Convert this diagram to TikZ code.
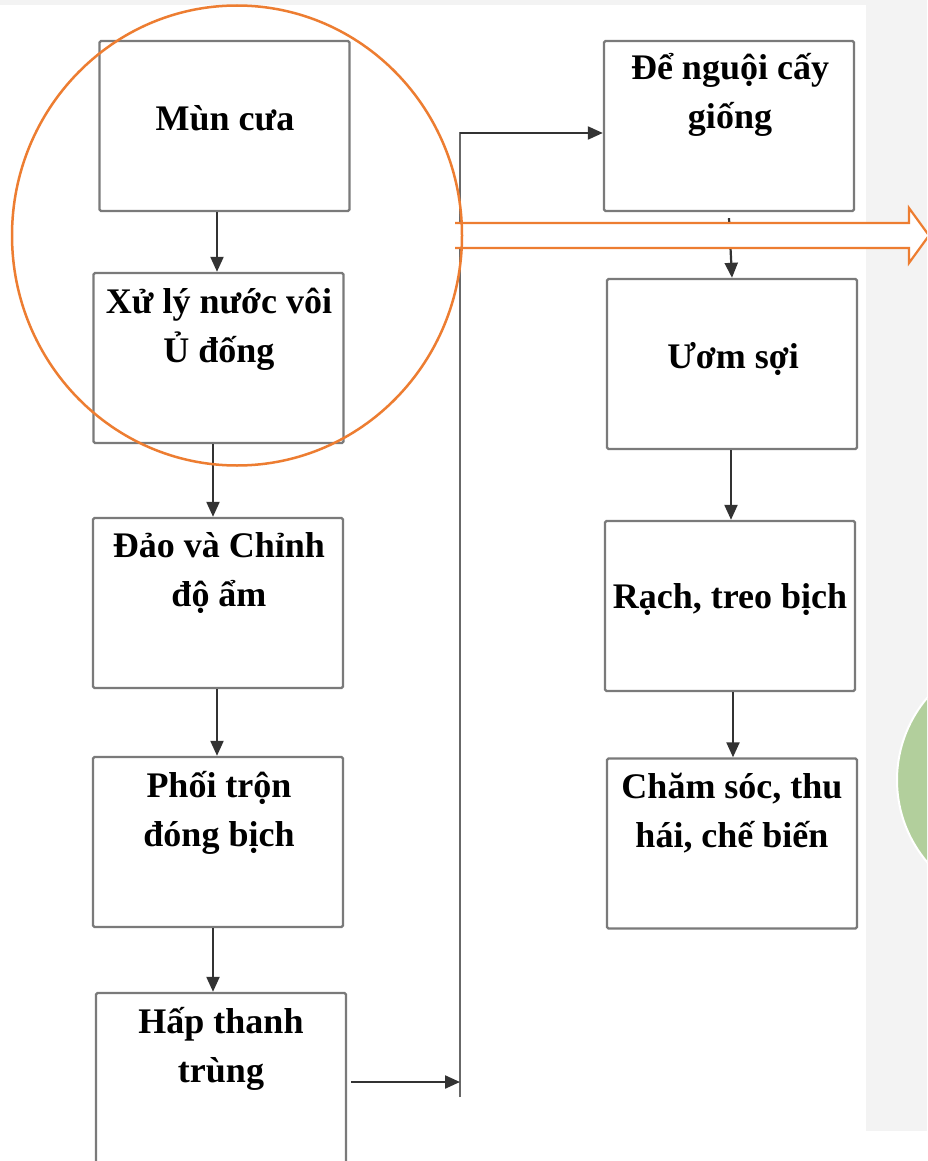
\documentclass[tikz,border=0pt]{standalone}
\usepackage{fontspec}
\setmainfont{Liberation Serif}
\usetikzlibrary{arrows.meta}
\definecolor{bggray}{HTML}{F3F3F3}
\definecolor{boxgray}{HTML}{7A7A7A}
\definecolor{arrgray}{HTML}{333333}
\definecolor{lineorange}{HTML}{ED7D31}
\definecolor{softgreen}{HTML}{B2CF9C}
\tikzset{
  stepbox/.style={draw=boxgray, line width=2.4pt, rounded corners=1.5pt, fill=white, minimum width=250pt, minimum height=170pt, inner sep=0pt},
  lbl/.style={font=\bfseries\fontsize{36pt}{49pt}\selectfont, align=center, anchor=base, inner sep=0pt},
  arr/.style={draw=arrgray, line width=2.2pt, -{Triangle[length=15pt,width=13pt]}},
  vline/.style={draw=boxgray!85!black, line width=2.2pt}
}
\begin{document}
\begin{tikzpicture}[x=1pt,y=-1pt]
\useasboundingbox (0,0) rectangle (927,1161);
\clip (0,0) rectangle (927,1161);
\fill[white] (0,0) rectangle (927,1161);
\fill[bggray] (0,0) rectangle (927,5);
\fill[bggray] (866,0) rectangle (927,1131);
\fill[softgreen, draw=white, line width=2pt] (1024,780) circle (127);

% left column
\node[stepbox] (b1) at (224.5,126) {};
\node[stepbox] (b2) at (218.5,358) {};
\node[stepbox] (b3) at (218,603) {};
\node[stepbox] (b4) at (218,842) {};
\node[stepbox] (b5) at (221,1078) {};
% right column
\node[stepbox] (b6) at (729,126) {};
\node[stepbox] (b7) at (732,364) {};
\node[stepbox] (b8) at (730,606) {};
\node[stepbox] (b9) at (732,843.5) {};

\node[lbl] (t1) at (225,131) {Mùn cưa};
\node[lbl] (t2) at (219,362) {Xử lý nước vôi\\Ủ đống};
\node[lbl] (t3) at (219,606) {Đảo và Chỉnh\\độ ẩm};
\node[lbl] (t4) at (219,846) {Phối trộn\\đóng bịch};
\node[lbl] (t5) at (221,1082) {Hấp thanh\\trùng};
\node[lbl] (t6) at (730,129) {Để nguội cấy\\giống};
\node[lbl] (t7) at (733,368) {Ươm sợi};
\node[lbl] (t8) at (730,608) {Rạch, treo bịch};
\node[lbl] (t9) at (732,847) {Chăm sóc, thu\\hái, chế biến};

% connectors
\draw[arr] ([xshift=-1.5pt]b2.north |- b1.south) -- ([xshift=-1.5pt]b2.north);
\draw[arr] ([xshift=-5pt]b3.north |- b2.south) -- ([xshift=-5pt]b3.north);
\draw[arr] ([xshift=-1pt]b4.north |- b3.south) -- ([xshift=-1pt]b4.north);
\draw[arr] ([xshift=-8pt]b5.north |- b4.south) -- ([xshift=-8pt]b5.north);
\draw[arr] ([yshift=-6pt]b6.south) -- (b7.north);
\draw[arr] ([xshift=1pt]b8.north |- b7.south) -- ([xshift=1pt]b8.north);
\draw[arr] ([xshift=1pt]b9.north |- b8.south) -- ([xshift=1pt]b9.north);

\coordinate (jb) at (460,1097);
\coordinate (jt) at (460,133);
\coordinate (jm) at (460,1082);
\draw[vline] (jb) -- (jt) -- ([xshift=-14pt]jt -| b6.west);
\draw[arr] (jt) -- (jt -| b6.west);
\draw[arr] ([xshift=4pt]b5.east |- jm) -- (jm);

% orange hollow arrow and circle
\draw[lineorange, line width=2.2pt, fill=white, line join=miter]
  (455,223) -- (909,223) -- (909,208) -- (929,235.5) -- (909,263) -- (909,248) -- (455,248);
\draw[lineorange, line width=2.5pt] (237,235.5) ellipse (225 and 230);
\end{tikzpicture}
\end{document}
